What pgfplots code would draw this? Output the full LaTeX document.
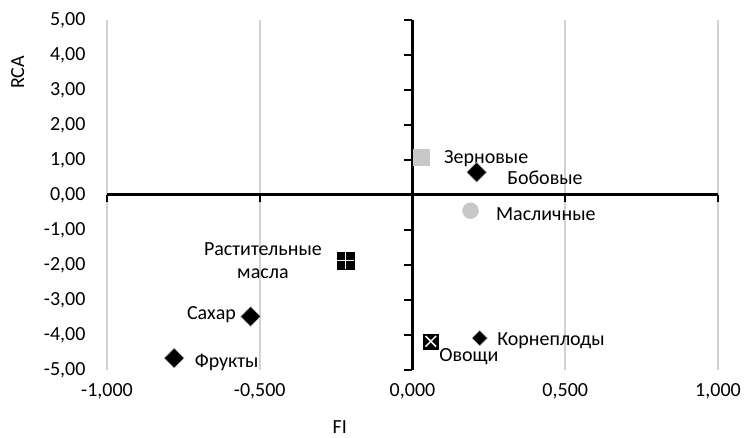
\documentclass[border=0pt]{standalone}
\usepackage{pgfplots}
\pgfplotsset{compat=1.18}
\usepackage{fontspec}
\setmainfont{Carlito}

\definecolor{gridgray}{RGB}{210,210,210}
\definecolor{markgray}{RGB}{200,200,200}

\begin{document}
\begin{tikzpicture}[font=\fontsize{20}{23}\selectfont]
\useasboundingbox (-107pt,-68pt) rectangle (641pt,370pt);
\begin{axis}[
  scale only axis,
  width=611pt, height=350pt,
  xmin=-1, xmax=1, ymin=-5, ymax=5,
  xtick={-1,-0.5,0,0.5,1},
  ytick={-5,-4,-3,-2,-1,0,1,2,3,4,5},
  axis line style={draw=none},
  major tick length=0pt,
  xmajorgrids,
  grid style={gridgray, line width=2pt},
  x tick label style={yshift=-10pt, /pgf/number format/.cd, fixed, fixed zerofill, precision=3, use comma, assume math mode=true},
  y tick label style={xshift=-18pt, /pgf/number format/.cd, fixed, fixed zerofill, precision=2, use comma, assume math mode=true},
  xlabel={FI},
  ylabel={RCA},
  xlabel style={at={(axis description cs:0.381,-0.163)}, anchor=center},
  ylabel style={at={(axis description cs:-0.146,0.85)}, anchor=center, rotate=0},
  clip=false,
  every node near coord/.style={font=\fontsize{20}{23}\selectfont, text=black},
]
% zero lines
\draw[line width=3pt] (axis cs:-1,0) -- (axis cs:1,0);
\draw[line width=3pt] (axis cs:0,-5) -- (axis cs:0,5);
\pgfplotsinvokeforeach{-5,-4,-3,-2,-1,0,1,2,3,4,5}{
  \draw[line width=2.5pt] (axis cs:0,#1) -- ([xshift=-8pt]axis cs:0,#1);
}
\pgfplotsinvokeforeach{-1,-0.5,0.5,1}{
  \draw[line width=2pt] (axis cs:#1,0) -- ([yshift=-7pt]axis cs:#1,0);
}

% Зерновые
\addplot[only marks, mark=square*, mark size=8pt, color=markgray,
  nodes near coords={Зерновые},
  nodes near coords style={anchor=west, xshift=19pt, yshift=-1pt}]
  coordinates {(0.03,1.08)};
% Бобовые
\addplot[only marks, mark=square*, mark size=7pt, mark options={rotate=45, fill=black, draw=gray!60, line width=0.6pt},
  nodes near coords={Бобовые},
  nodes near coords style={anchor=west, xshift=27pt, yshift=-6pt}]
  coordinates {(0.21,0.65)};
% Масличные
\addplot[only marks, mark=*, mark size=8pt, color=markgray,
  nodes near coords={Масличные},
  nodes near coords style={anchor=west, xshift=22pt, yshift=-3pt}]
  coordinates {(0.19,-0.45)};
% Растительные масла
\addplot[only marks, mark=square*, mark size=8.5pt, color=black,
  nodes near coords={Растительные\\масла},
  nodes near coords style={align=center, anchor=east, xshift=-20pt, yshift=0pt}]
  coordinates {(-0.22,-1.88)};
\addplot[only marks, mark=+, mark size=8.5pt, color=white, line width=1.2pt]
  coordinates {(-0.22,-1.88)};
% Сахар
\addplot[only marks, mark=square*, mark size=7pt, mark options={rotate=45, fill=black, draw=gray!60, line width=0.6pt},
  nodes near coords={Сахар},
  nodes near coords style={anchor=east, xshift=-11pt, yshift=2pt}]
  coordinates {(-0.53,-3.47)};
% Фрукты
\addplot[only marks, mark=square*, mark size=7pt, mark options={rotate=45, fill=black, draw=gray!60, line width=0.6pt},
  nodes near coords={Фрукты},
  nodes near coords style={anchor=west, xshift=17pt, yshift=-4pt}]
  coordinates {(-0.78,-4.66)};
% Овощи
\addplot[only marks, mark=square*, mark size=7.5pt, color=black,
  nodes near coords={Овощи},
  nodes near coords style={anchor=west, xshift=5pt, yshift=-15pt}]
  coordinates {(0.06,-4.18)};
\addplot[only marks, mark=x, mark size=7.5pt, color=white, line width=1.5pt]
  coordinates {(0.06,-4.18)};
% Корнеплоды
\addplot[only marks, mark=square*, mark size=5.5pt, mark options={rotate=45, fill=black, draw=gray!50, line width=0.6pt},
  nodes near coords={Корнеплоды},
  nodes near coords style={anchor=west, xshift=14pt, yshift=-3pt}]
  coordinates {(0.22,-4.09)};
\end{axis}
\end{tikzpicture}
\end{document}
